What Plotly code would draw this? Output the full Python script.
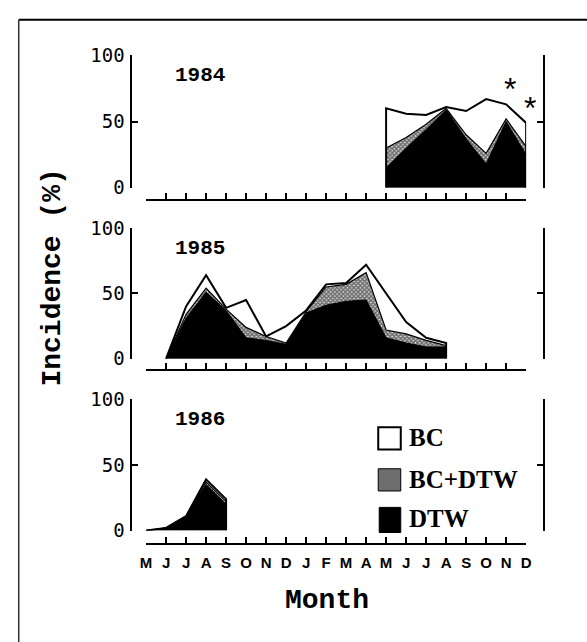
import plotly.graph_objects as go

W, H = 587, 642

months = ["M", "J", "J", "A", "S", "O", "N", "D", "J", "F",
          "M", "A", "M", "J", "J", "A", "S", "O", "N", "D"]
years = ["1984", "1985", "1986"]

# 1984 (months index 12..19)
x84 = list(range(12, 20))
bc84 = [60, 56, 55, 61, 58, 67, 63, 49]
both84 = [30, 38, 48, 60, 40, 26, 52, 31]
dtw84 = [15, 30, 44, 59, 37, 18, 50, 25]
stars84 = [18, 19]

# 1985 (months index 1..15)
x85 = list(range(1, 16))
bc85 = [0, 40, 64, 39, 45, 17, 25, 37, 57, 58, 72, 50, 28, 16, 12]
both85 = [0, 34, 54, 38, 24, 17, 12, 36, 55, 57, 66, 22, 19, 14, 10]
dtw85 = [0, 31, 51, 37, 16, 14, 11, 35, 41, 44, 45, 16, 12, 9, 9]

# 1986 (months index 0..4)
x86 = list(range(0, 5))
bc86 = [0, 2, 11, 39, 24]
both86 = [0, 2, 11, 37, 22]
dtw86 = [0, 2, 11, 35, 20]

series = [(x84, bc84, both84, dtw84), (x85, bc85, both85, dtw85), (x86, bc86, both86, dtw86)]
legend_names = ["BC", "BC+DTW", "DTW"]


def fx(px):
    return px / W


def fy(py):
    return 1 - py / H


# pixel geometry of the three panels
panels = [dict(y100=46, y0=183, ax=196),
          dict(y100=225, y0=360, ax=372),
          dict(y100=402, y0=538, ax=552)]
X_LEFT, X_RIGHT = 143, 531
Y_AXIS_X, R_AXIS_X = 128, 549

fig = go.Figure()
layout = dict(width=W, height=H, margin=dict(l=0, r=0, t=0, b=0),
              paper_bgcolor="white", plot_bgcolor="rgba(0,0,0,0)", showlegend=False)

mono = "Liberation Mono"
hatch = dict(shape="x", fgcolor="black", bgcolor="#d8d8d8", size=3, solidity=0.7)
for k, (p, (xs, bc, both, dtw)) in enumerate(zip(panels, series)):
    xa = "x" if k == 0 else f"x{k+1}"
    ya = "y" if k == 0 else f"y{k+1}"
    yr = f"y{k+4}"
    xa_key = "xaxis" if k == 0 else f"xaxis{k+1}"
    ya_key = "yaxis" if k == 0 else f"yaxis{k+1}"
    yr_key = f"yaxis{k+4}"

    ex = [xs[0]] + xs + [xs[-1]]
    # BC area (white)
    fig.add_trace(go.Scatter(x=xs, y=bc, xaxis=xa, yaxis=ya, mode="lines",
                             line=dict(width=0, color="white"), fill="tozeroy",
                             fillcolor="white", hoverinfo="skip"))
    # BC+DTW area (hatched)
    fig.add_trace(go.Scatter(x=xs, y=both, xaxis=xa, yaxis=ya, mode="lines",
                             line=dict(width=1.2, color="black"), fill="tozeroy",
                             fillpattern=hatch, hoverinfo="skip"))
    # DTW area (black)
    fig.add_trace(go.Scatter(x=xs, y=dtw, xaxis=xa, yaxis=ya, mode="lines",
                             line=dict(width=1, color="black"), fill="tozeroy",
                             fillcolor="black", hoverinfo="skip"))
    # BC outline on top (with vertical ends)
    fig.add_trace(go.Scatter(x=ex, y=[0] + bc + [0], xaxis=xa, yaxis=ya, mode="lines",
                             line=dict(width=2, color="black"), hoverinfo="skip"))
    # right bracket axis
    fig.add_trace(go.Scatter(x=[None], y=[None], xaxis=xa, yaxis=yr, hoverinfo="skip"))

    layout[xa_key] = dict(domain=[fx(X_LEFT), fx(X_RIGHT)], range=[0, 19], anchor="free",
                          position=fy(p["ax"]), showline=True, linecolor="black", linewidth=2,
                          ticks="inside", ticklen=6, tickwidth=1.5, tickcolor="black",
                          tickvals=list(range(20)), ticktext=months, ticklabelstandoff=5,
                          showticklabels=(k == 2), showgrid=False, zeroline=False,
                          tickfont=dict(family="Liberation Sans", size=15, color="black",
                                        weight="bold"))
    layout[ya_key] = dict(domain=[fy(p["y0"]), fy(p["y100"])], range=[0, 100], anchor="free",
                          position=fx(Y_AXIS_X), showline=True, linecolor="black", linewidth=2,
                          ticks="inside", ticklen=6, tickwidth=2, tickcolor="black",
                          tickvals=[0, 50, 100], showgrid=False, zeroline=False,
                          ticklabelstandoff=2,
                          tickfont=dict(family="DejaVu Sans Mono", size=19, color="black"))
    layout[yr_key] = dict(overlaying=ya, side="right", range=[0, 100], anchor="free",
                          position=fx(R_AXIS_X), showline=True, linecolor="black", linewidth=2,
                          ticks="inside", ticklen=6, tickwidth=2, tickcolor="black",
                          tickvals=[0, 50, 100], showticklabels=False, showgrid=False,
                          zeroline=False)

fig.update_layout(**layout)

ann = []
# year labels
for k, p in enumerate(panels):
    ann.append(dict(xref="paper", yref="paper", x=fx(170), y=fy(p["y100"] + 21),
                    xanchor="left", yanchor="middle", text=years[k], showarrow=False,
                    font=dict(family=mono, size=21, color="black", weight="bold")))
# asterisks
for sx in stars84:
    val = bc84[x84.index(sx)]
    ann.append(dict(xref="x", yref="y", x=sx, y=val + 10, text="*", showarrow=False,
                    xanchor="center", yanchor="middle", yshift=2, xshift=4,
                    font=dict(family="Liberation Sans", size=32, color="black")))
# axis titles
ann.append(dict(xref="paper", yref="paper", x=fx(48), y=fy(276), text="Incidence (%)",
                textangle=-90, showarrow=False, xanchor="center", yanchor="middle",
                font=dict(family=mono, size=28, color="black", weight="bold")))
ann.append(dict(xref="paper", yref="paper", x=fx(328), y=fy(610), text="Month",
                showarrow=False, xanchor="center", yanchor="middle",
                font=dict(family=mono, size=28, color="black", weight="bold")))

# legend (manual)
leg_y = [442, 485, 526]
for name, cy in zip(legend_names, leg_y):
    ann.append(dict(xref="paper", yref="paper", x=fx(409), y=fy(cy), text=name,
                    showarrow=False, xanchor="left", yanchor="middle",
                    font=dict(family="Liberation Serif", size=25, color="black",
                              weight="bold")))

shapes = [
    dict(type="rect", xref="paper", yref="paper", x0=fx(380), x1=fx(403),
         y0=fy(454), y1=fy(431), line=dict(color="black", width=2), fillcolor="white"),
    dict(type="rect", xref="paper", yref="paper", x0=fx(380), x1=fx(403),
         y0=fy(497), y1=fy(474), line=dict(color="black", width=1), fillcolor="#6e6e6e"),
    dict(type="rect", xref="paper", yref="paper", x0=fx(381), x1=fx(403),
         y0=fy(540), y1=fy(514), line=dict(color="black", width=1), fillcolor="black"),
    # outer frame
    dict(type="line", xref="paper", yref="paper", x0=fx(13), x1=fx(600),
         y0=fy(9), y1=fy(9), line=dict(color="black", width=2)),
    dict(type="line", xref="paper", yref="paper", x0=fx(13), x1=fx(13),
         y0=fy(9), y1=fy(660), line=dict(color="#333", width=1.5)),
]

fig.update_layout(annotations=ann, shapes=shapes)
fig.write_html("out.html")
